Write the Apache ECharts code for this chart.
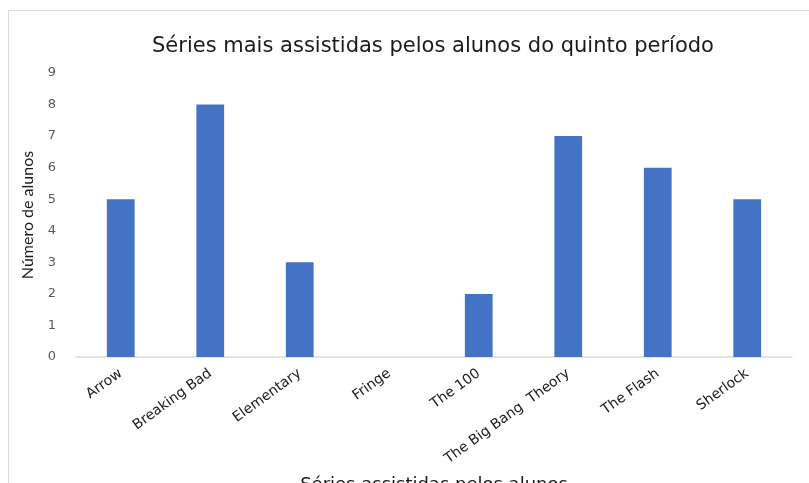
<!DOCTYPE html>
<html><head><meta charset="utf-8">
<script src="https://cdn.jsdelivr.net/npm/echarts@6/dist/echarts.min.js"></script>
<style>html,body{margin:0;padding:0;background:#fff}#c{width:809px;height:483px}</style>
</head><body><div id="c"></div>
<script>
const categories = ['Arrow','Breaking Bad','Elementary','Fringe','The 100','The Big Bang  Theory','The Flash','Sherlock'];
const values = [5, 8, 3, 0, 2, 7, 6, 5];
const titleText = 'Séries mais assistidas pelos alunos do quinto período';
const yName = 'Número de alunos';
const xName = 'Séries assistidas pelos alunos';

const chart = echarts.init(document.getElementById('c'));
chart.setOption({
  animation: false,
  graphic: [{type:'rect', shape:{x:8.5,y:10.5,width:820,height:500}, style:{fill:'none', stroke:'#d9d9d9', lineWidth:1}, silent:true}],
  title: {text: titleText, left: 428, textAlign:'center', top: 31, textStyle:{fontFamily:'DejaVu Sans', fontSize:21, fontWeight:'normal', color:'#1a1a1a'}},
  grid: {left: 76, right: 17, top: 73, bottom: 126, outerBoundsMode:'none', containLabel:false},
  xAxis: {
    type:'category', data: categories,
    axisLine:{lineStyle:{color:'#d9d9d9', width:1.5}},
    axisTick:{show:false},
    axisLabel:{rotate:36, color:'#1a1a1a', fontFamily:'DejaVu Sans', fontSize:14, margin:15, interval:0},
    name: xName, nameLocation:'middle', nameGap: 119,
    nameTextStyle:{fontFamily:'DejaVu Sans', fontSize:18, color:'#1a1a1a'}
  },
  yAxis: {
    type:'value', min:0, max:9, interval:1,
    splitLine:{show:false}, axisLine:{show:false}, axisTick:{show:false},
    axisLabel:{color:'#595959', fontFamily:'DejaVu Sans', fontSize:13, margin:20},
    name: yName, nameLocation:'middle', nameGap: 40,
    nameTextStyle:{fontFamily:'Lato', fontSize:16, color:'#1a1a1a'}
  },
  series: [{type:'bar', data: values, barWidth:'31%', itemStyle:{color:'#4472C4'}}]
});
</script></body></html>
